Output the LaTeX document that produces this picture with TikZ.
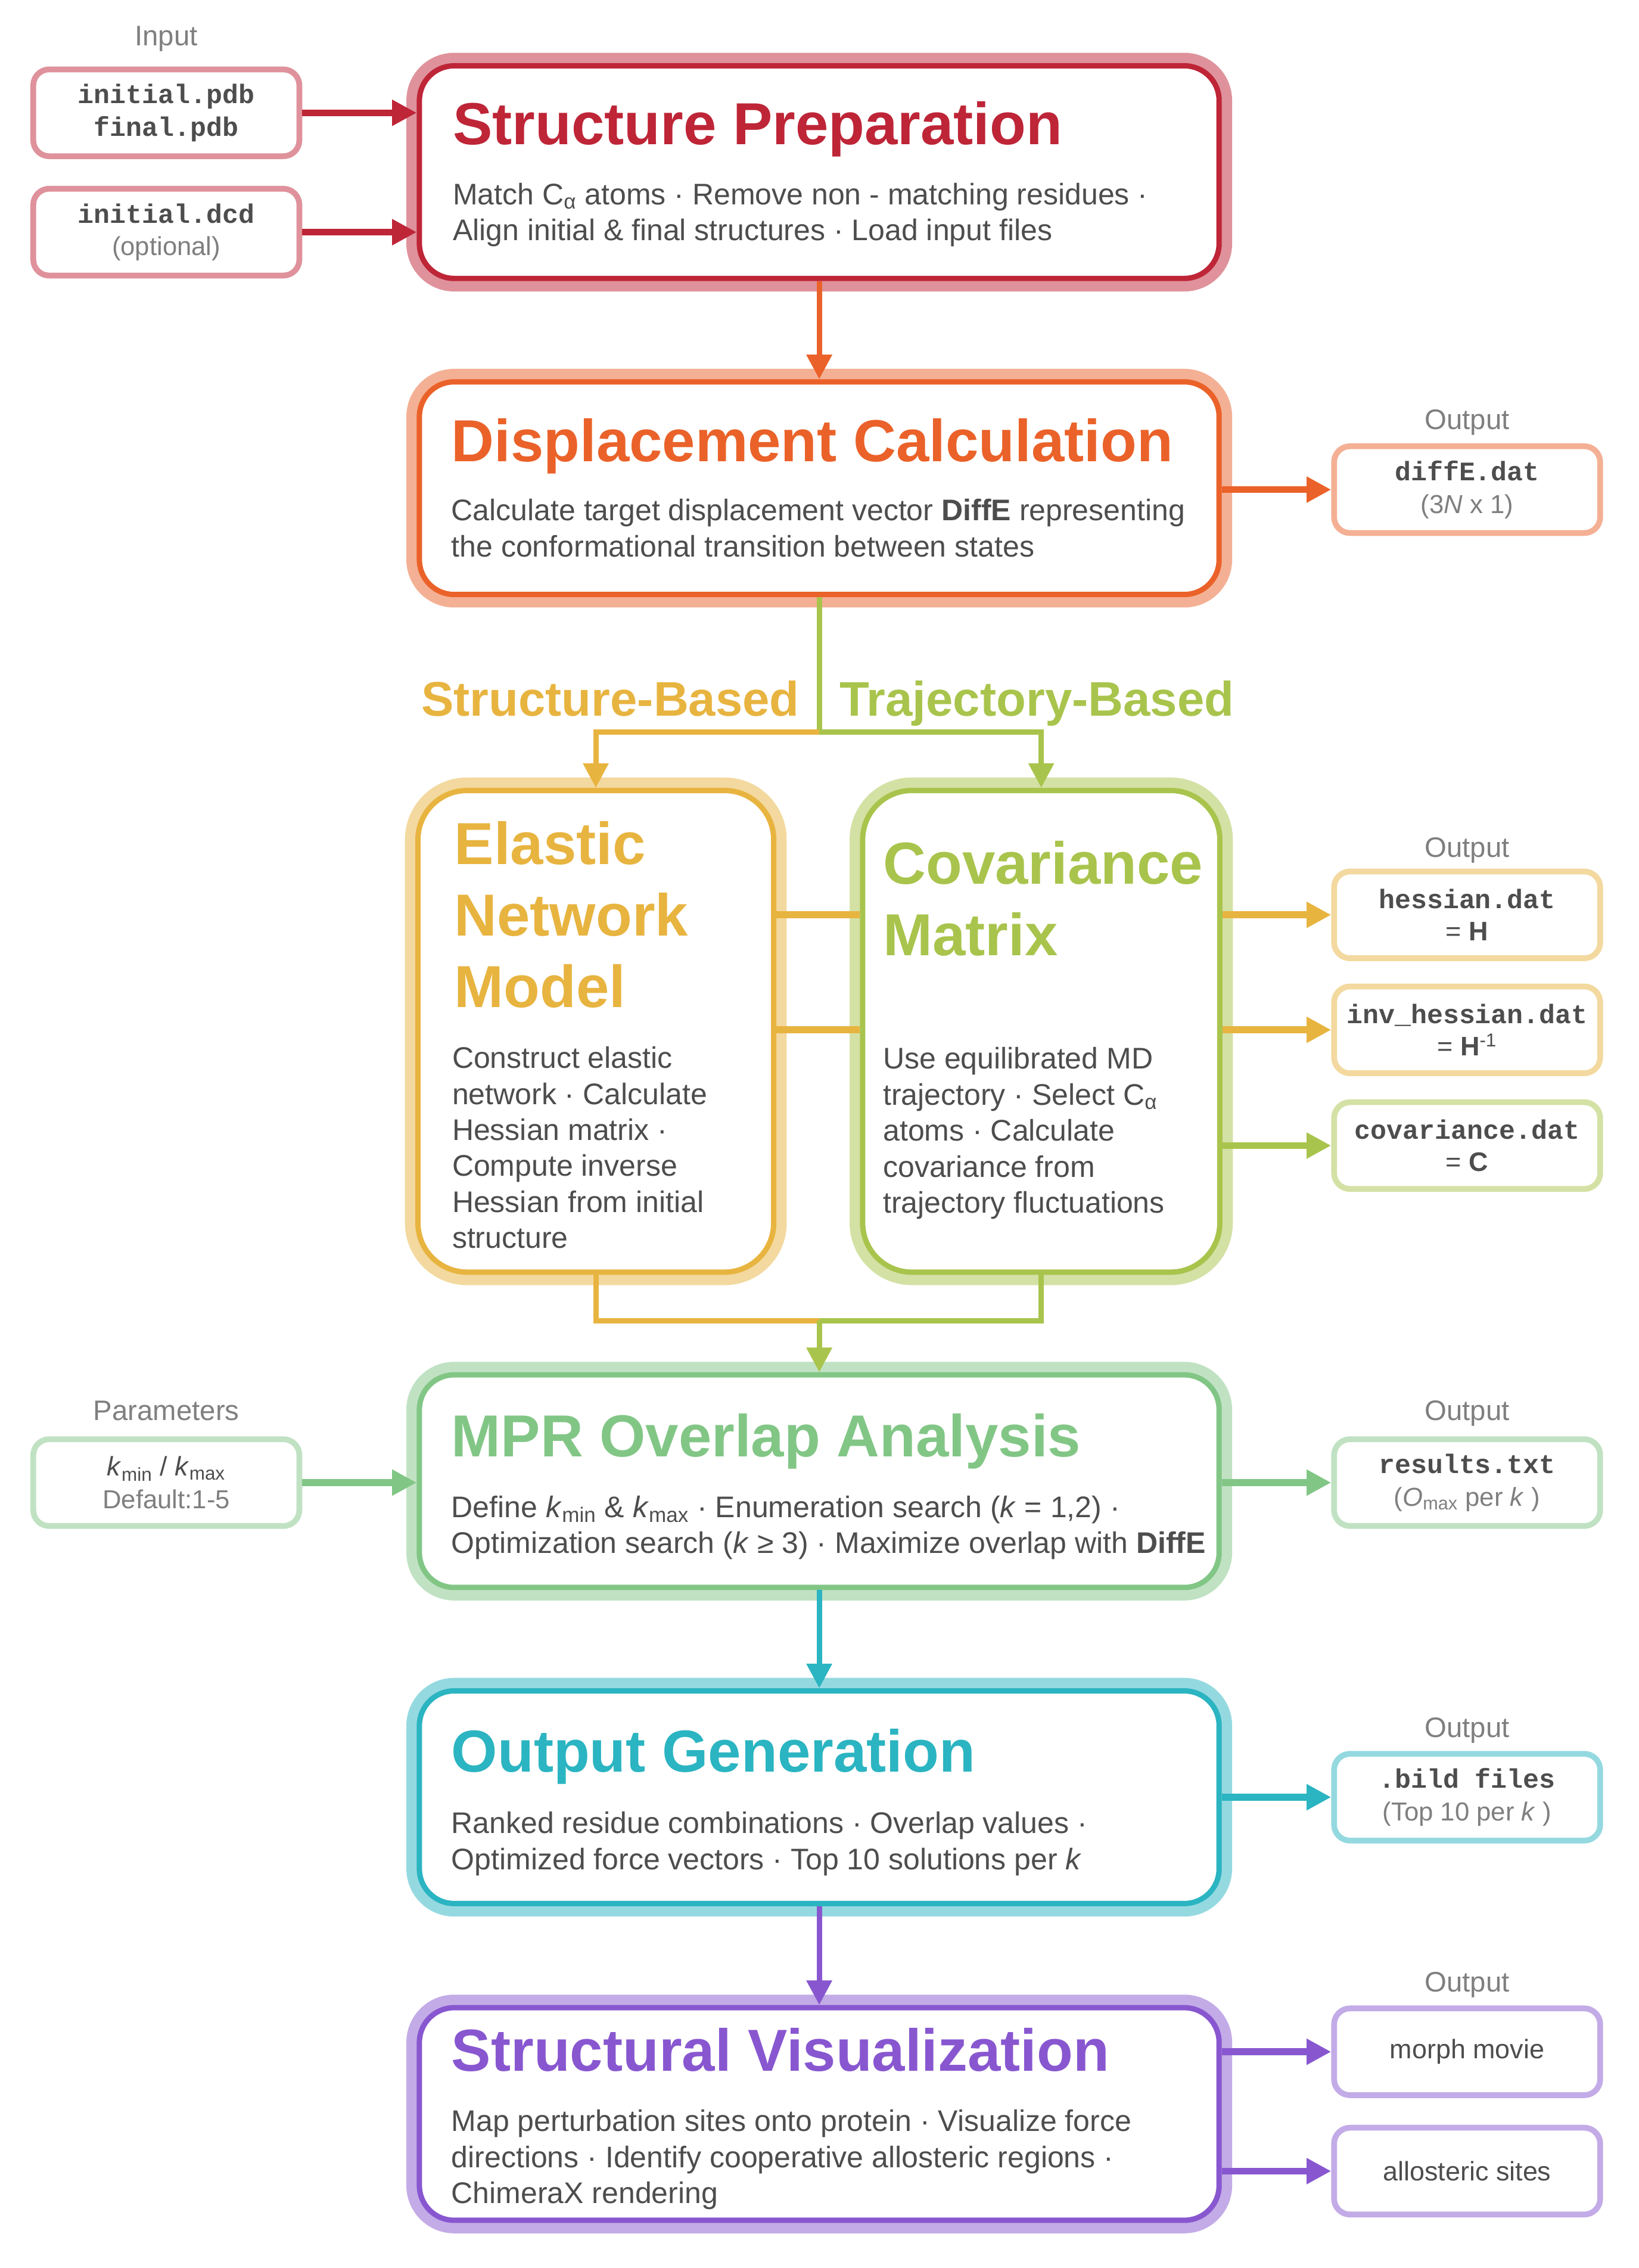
\documentclass[tikz,border=0pt]{standalone}
\usepackage{fontspec}
\setmainfont{Liberation Sans}
\setmonofont{Liberation Mono}
\usetikzlibrary{arrows.meta}
\definecolor{cRed}{HTML}{BE2537}
\definecolor{cOrange}{HTML}{EA6229}
\definecolor{cGold}{HTML}{E8B440}
\definecolor{cLime}{HTML}{A9C44C}
\definecolor{cGreen}{HTML}{82C686}
\definecolor{cTeal}{HTML}{2BB4C1}
\definecolor{cPurple}{HTML}{8857D0}
\definecolor{txt}{HTML}{4D4D4D}
\definecolor{gry}{HTML}{7F7F7F}
\newcommand{\ttlfont}{\fontsize{41}{49.5}\selectfont\bfseries}
\newcommand{\bodyfont}{\fontsize{20.6}{24.9}\selectfont}
\newcommand{\filefont}{\fontsize{18.5}{22.5}\selectfont}
\newcommand{\fname}[1]{\texttt{\textbf{#1}}}
\newcommand{\fnote}[1]{{\fontsize{18}{22.5}\selectfont\color{gry}#1}}

\begin{document}
\begin{tikzpicture}[x=1pt,y=-1pt,>={Triangle[length=17pt,width=17pt]},
  stage/.style={draw=#1,line width=3.7pt,fill=white,rounded corners=24pt,minimum width=553pt,minimum height=147pt,preaction={draw=#1!50,line width=18pt}},
  filebox/.style={draw=#1!50,line width=4pt,fill=white,rounded corners=11pt,minimum width=184pt,minimum height=60pt,inner sep=0pt,align=center,text=txt,font=\filefont},
  ttl/.style={anchor=base west,inner sep=0pt,align=left,text=#1,font=\ttlfont},
  body/.style={anchor=base west,inner sep=0pt,align=left,text=txt,font=\bodyfont},
  lbl/.style={anchor=base,inner sep=0pt,text=gry,font=\fontsize{19.5}{23}\selectfont},
  branch/.style={inner sep=0pt,text=#1,font=\fontsize{33.6}{40}\selectfont\bfseries},
  flow/.style={draw=#1,line width=3.7pt},
  side/.style={draw=#1,line width=4.8pt}]
\useasboundingbox (0,0) rectangle (1133,1568);

% stages
\node[stage=cRed] (prep) at (566.5,119) {};
\node[stage=cOrange] (disp) at (566.5,337.5) {};
\node[stage=cGold,minimum width=246pt,minimum height=333pt,rounded corners=34pt] (enm) at (412,713) {};
\node[stage=cLime,minimum width=247pt,minimum height=333pt,rounded corners=34pt] (cm) at (720,713) {};
\node[stage=cGreen] (mpr) at (566.5,1024) {};
\node[stage=cTeal] (og) at (566.5,1242.5) {};
\node[stage=cPurple] (sv) at (566.5,1461.5) {};

% texts (base = last line)
\node[ttl=cRed] (prepT) at (313,100) {Structure Preparation};
\node[body] (prepB) at (313,166.3) {Match C\textsubscript{α} atoms · Remove non - matching residues ·\\Align initial \& final structures · Load input files};
\node[ttl=cOrange] (dispT) at (312,319) {Displacement Calculation};
\node[body] (dispB) at (312,384.9) {Calculate target displacement vector \textbf{DiffE} representing\\the conformational transition between states};
\node[ttl=cGold] (enmT) at (314,696.5) {Elastic\\Network\\Model};
\node[body] (enmB) at (312.5,863) {Construct elastic\\network · Calculate\\Hessian matrix ·\\Compute inverse\\Hessian from initial\\structure};
\node[ttl=cLime] (cmT) at (610.5,660.5) {Covariance\\Matrix};
\node[body] (cmB) at (610.5,838.6) {Use equilibrated MD\\trajectory · Select C\textsubscript{α}\\atoms · Calculate\\covariance from\\trajectory fluctuations};
\node[ttl=cGreen] (mprT) at (312,1007) {MPR Overlap Analysis};
\node[body] (mprB) at (312,1074) {Define \textit{k}\textsubscript{min} \& \textit{k}\textsubscript{max} · Enumeration search (\textit{k} = 1,2) ·\\Optimization search (\textit{k} ≥ 3) · Maximize overlap with \textbf{DiffE}};
\node[ttl=cTeal] (ogT) at (312,1225) {Output Generation};
\node[body] (ogB) at (312,1292.5) {Ranked residue combinations · Overlap values ·\\Optimized force vectors · Top 10 solutions per \textit{k}};
\node[ttl=cPurple] (svT) at (312,1432) {Structural Visualization};
\node[body] (svB) at (312,1523.3) {Map perturbation sites onto protein · Visualize force\\directions · Identify cooperative allosteric regions ·\\ChimeraX rendering};

% files
\node[lbl] (inLbl) at (115,31.6) {Input};
\node[filebox=cRed] (inp1) at (115,78) {\fname{initial.pdb}\\\fname{final.pdb}};
\node[filebox=cRed] (inp2) at (115,160.5) {\fname{initial.dcd}\\\fnote{(optional)}};
\node[lbl] (outA) at (1014.5,297) {Output};
\node[filebox=cOrange] (diffe) at (1014.5,338.5) {\fname{diffE.dat}\\\fnote{(3\textit{N} x 1)}};
\node[lbl] (outB) at (1014.5,592.5) {Output};
\node[filebox=cGold] (hess) at (1014.5,632.5) {\fname{hessian.dat}\\= \textbf{H}};
\node[filebox=cGold] (inv) at (1014.5,712) {\fname{inv\_hessian.dat}\\= \textbf{H}\textsuperscript{-1}};
\node[filebox=cLime] (cov) at (1014.5,792) {\fname{covariance.dat}\\= \textbf{C}};
\node[lbl] (parLbl) at (115,982) {Parameters};
\node[filebox=cGreen] (par) at (115,1025) {\textit{k}\textsubscript{min} / \textit{k}\textsubscript{max}\\\fnote{Default:1-5}};
\node[lbl] (outC) at (1014.5,982) {Output};
\node[filebox=cGreen] (res) at (1014.5,1025) {\fname{results.txt}\\\fnote{(\textit{O}\textsubscript{max} per \textit{k} )}};
\node[lbl] (outD) at (1014.5,1201) {Output};
\node[filebox=cTeal] (bild) at (1014.5,1242.5) {\fname{.bild files}\\\fnote{(Top 10 per \textit{k} )}};
\node[lbl] (outE) at (1014.5,1377) {Output};
\node[filebox=cPurple] (movie) at (1014.5,1418.5) {morph movie};
\node[filebox=cPurple] (sites) at (1014.5,1501) {allosteric sites};

% branches
\coordinate (split) at (566.5,506);
\coordinate (merge) at (566.5,913);
\node[branch=cGold,anchor=base east] (sbLbl) at (553,495) {Structure-Based};
\node[branch=cLime,anchor=base west] (tbLbl) at (580.5,495) {Trajectory-Based};
\draw[flow=cLime] (disp) -- (split);
\draw[flow=cGold,->] (split) -| (enm);
\draw[flow=cLime,->] (split) -| (cm);
\draw[flow=cGold] (enm) |- (merge);
\draw[flow=cLime] (cm) |- (merge);
\draw[flow=cLime,->] (merge) -- (mpr);
\draw[flow=cOrange,->] (prep) -- (disp);
\draw[flow=cTeal,->] (mpr) -- (og);
\draw[flow=cPurple,->] (og) -- (sv);

% side arrows
\draw[side=cRed,->] (inp1.east) -- (inp1.east -| prep.west);
\draw[side=cRed,->] (inp2.east) -- (inp2.east -| prep.west);
\draw[side=cOrange,->] (diffe.west -| disp.east) -- (diffe.west);
\draw[side=cGold] (hess.west -| enm.east) -- (hess.west -| cm.west);
\draw[side=cGold,->] (hess.west -| cm.east) -- (hess.west);
\draw[side=cGold] (inv.west -| enm.east) -- (inv.west -| cm.west);
\draw[side=cGold,->] (inv.west -| cm.east) -- (inv.west);
\draw[side=cLime,->] (cov.west -| cm.east) -- (cov.west);
\draw[side=cGreen,->] (par.east) -- (par.east -| mpr.west);
\draw[side=cGreen,->] (res.west -| mpr.east) -- (res.west);
\draw[side=cTeal,->] (bild.west -| og.east) -- (bild.west);
\draw[side=cPurple,->] (movie.west -| sv.east) -- (movie.west);
\draw[side=cPurple,->] (sites.west -| sv.east) -- (sites.west);
\end{tikzpicture}
\end{document}
